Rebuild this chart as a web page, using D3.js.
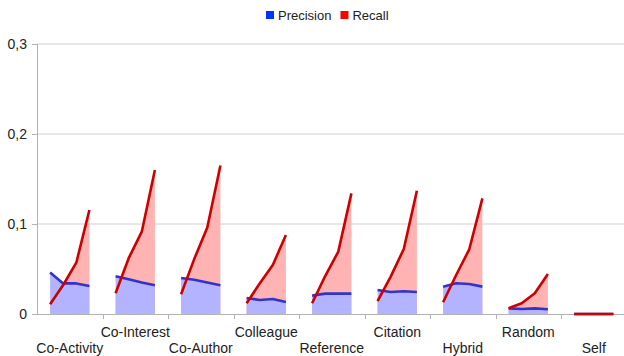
<!DOCTYPE html>
<html><head><meta charset="utf-8">
<script src="https://cdn.jsdelivr.net/npm/d3@7"></script>
<style>body{margin:0;background:#fff}svg{display:block;font-family:"Liberation Sans",Arial,sans-serif}</style>
</head><body><svg id="c" width="624" height="356"></svg>
<script>
const categories = ["Co-Activity","Co-Interest","Co-Author","Colleague","Reference","Citation","Hybrid","Random","Self"];
const precision = [
  [0.046,0.034,0.034,0.031],
  [0.042,0.0385,0.035,0.032],
  [0.040,0.038,0.035,0.032],
  [0.0178,0.0156,0.0167,0.0133],
  [0.0204,0.0226,0.0226,0.0226],
  [0.0267,0.0244,0.0252,0.0244],
  [0.0304,0.0341,0.0333,0.0304],
  [0.0063,0.0056,0.0063,0.0052],
  [0,0,0,0]
];
const recall = [
  [0.0108,0.0322,0.057,0.1156],
  [0.023,0.062,0.0915,0.160],
  [0.022,0.061,0.096,0.165],
  [0.0119,0.034,0.0544,0.0878],
  [0.0119,0.0422,0.0693,0.134],
  [0.0144,0.0415,0.0722,0.137],
  [0.013,0.0433,0.0719,0.1285],
  [0.0063,0.0119,0.023,0.0444],
  [0,0,0,0]
];
const yTicks = [0,0.1,0.2,0.3];
const yTickLabels = ["0","0,1","0,2","0,3"];
const seriesNames = ["Precision","Recall"];

const svg = d3.select("#c");
const mL = 37, mR = 626.5, mT = 44, mB = 314;
const x = d3.scaleBand().domain(categories).range([mL, mR]).paddingInner(0).paddingOuter(0);
const y = d3.scaleLinear().domain([0,0.3]).range([mB, mT]);
const px = (ci, k) => x(categories[ci]) + x.bandwidth() * (k + 1) / 5;

// gridlines
svg.append("g").selectAll("line").data(yTicks.slice(1)).join("line")
  .attr("x1", mL).attr("x2", 624).attr("y1", d => y(d)).attr("y2", d => y(d))
  .attr("stroke", "#d0d0d0").attr("stroke-width", 1);

const area = d3.area().x(d => d[0]).y0(y(0)).y1(d => y(d[1]));
const line = d3.line().x(d => d[0]).y(d => y(d[1]));

const gA = svg.append("g"), gL = svg.append("g");
categories.forEach((c, ci) => {
  const r = recall[ci].map((v, k) => [px(ci, k), v]);
  const p = precision[ci].map((v, k) => [px(ci, k), v]);
  gA.append("path").attr("d", area(r)).attr("fill", "#ffb3b3");
  gA.append("path").attr("d", area(p)).attr("fill", "#b3b3ff");
});

// y axis
const ya = svg.append("g").attr("transform", `translate(${mL},0)`)
  .call(d3.axisLeft(y).tickValues(yTicks).tickFormat((d,i) => yTickLabels[i]).tickSize(5).tickPadding(5));
ya.select(".domain").attr("stroke", "#b3b3b3").attr("d", `M0.5,${mT}V${mB}`);
ya.selectAll(".tick line").attr("stroke", "#b3b3b3");
ya.selectAll("text").attr("font-size", 14).attr("fill", "#222").attr("font-family", "Liberation Sans, Arial, sans-serif");

// x axis
const xa = svg.append("g").attr("transform", `translate(0,${mB})`)
  .call(d3.axisBottom(x).tickSize(0).tickFormat(""));
xa.select(".domain").attr("stroke", "#b3b3b3").attr("d", `M${mL},0.5H624`);
xa.selectAll(".tick").remove();
xa.selectAll(".b").data(categories.slice(1)).join("line")
  .attr("x1", d => Math.round(x(d)) + 0.5).attr("x2", d => Math.round(x(d)) + 0.5).attr("y1", 0).attr("y2", 5).attr("stroke", "#b3b3b3");
xa.selectAll(".lbl").data(categories).join("text")
  .attr("x", d => x(d) + x.bandwidth()/2)
  .attr("y", (d,i) => i % 2 === 0 ? 39 : 23)
  .attr("text-anchor", "middle").attr("font-size", 14).attr("fill", "#222")
  .text(d => d);

categories.forEach((c, ci) => {
  const p = precision[ci].map((v, k) => [px(ci, k), v]);
  gL.append("path").attr("d", line(p)).attr("fill", "none").attr("stroke", "#3333cc").attr("stroke-width", 2.6).attr("stroke-linejoin","round");
});
categories.forEach((c, ci) => {
  const r = recall[ci].map((v, k) => [px(ci, k), v]);
  gL.append("path").attr("d", line(r)).attr("fill", "none").attr("stroke", "#cc0000").attr("stroke-width", 2.6).attr("stroke-linejoin","round");
});
gL.raise();

// legend
const legend = [{n: seriesNames[0], c: "#0033ff"}, {n: seriesNames[1], c: "#ff0000"}];
const lg = svg.append("g");
let lx = 266;
legend.forEach(l => {
  lg.append("rect").attr("x", lx).attr("y", 11).attr("width", 8).attr("height", 8).attr("fill", l.c);
  const t = lg.append("text").attr("x", lx + 12).attr("y", 20).attr("font-size", 13).attr("fill", "#222").text(l.n);
  lx += 12 + t.node().getComputedTextLength() + 9;
});
</script></body></html>
